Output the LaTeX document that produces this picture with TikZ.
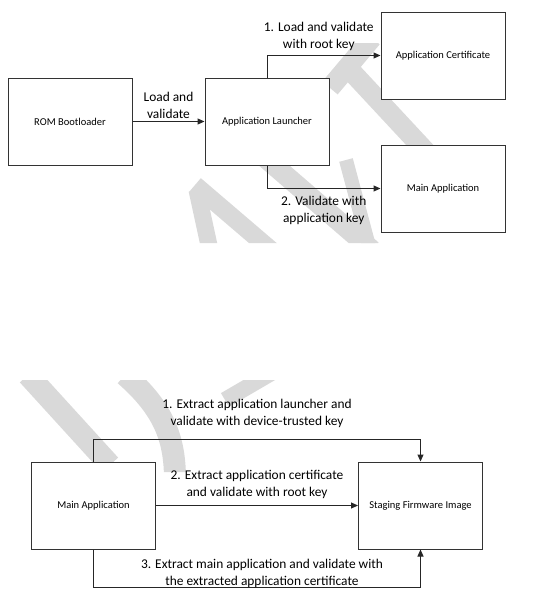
\documentclass[tikz,border=0pt]{standalone}
\usepackage{fontspec}
\setmainfont{Carlito}
\usepackage{tikz}
\usetikzlibrary{arrows.meta, positioning, calc}

\begin{document}
\begin{tikzpicture}[
    x=1pt, y=-1pt,
    box/.style={draw=black!80, fill=white, line width=1pt, minimum width=124pt, minimum height=87pt, align=center, font=\fontsize{10.5}{12}\selectfont},
    lbl/.style={align=center, inner sep=2pt, font=\fontsize{13.4}{17.5}\selectfont},
    flow/.style={draw=black!85, line width=1pt, -{Triangle[length=7pt, width=6pt]}},
    wm/.style={draw=black!15, line width=20pt}
]
    \useasboundingbox (0,0) rectangle (558,605);

    % watermark
    \begin{scope}
        \clip (0,43) rectangle (558,243) (0,380) rectangle (558,472);
        \draw[wm] (372,38) -- (330,88);
        \draw[wm] (350,70) -- (430,156);
        \draw[wm, line width=18pt] (195,185) -- (285,262);
        \draw[wm, line width=17pt] (197,190) -- (210,250);
        \draw[wm] (262,155) -- (372,250);
        \draw[wm, line width=14pt] (346,160) -- (370,250);
        \draw[wm, line width=22pt] (28,375) -- (110,465);
        \draw[wm, line width=22pt] (125,375) .. controls (165,410) and (175,440) .. (175,480);
        \draw[wm, line width=16pt] (225,400) -- (285,365);
    \end{scope}

    % boot chain
    \node[box] (rom) at (70,121.5) {ROM Bootloader};
    \node[box, right=72pt of rom] (launcher) {Application Launcher};
    \node[box, above right=-22pt and 51pt of launcher] (cert) {Application Certificate};
    \node[box, below right=-21pt and 51pt of launcher] (mainapp) {Main Application};

    \draw[flow] (rom) -- node[lbl, above] {Load and\\validate} (launcher);
    \draw[flow] (launcher.north) |- node[lbl, pos=0.75, above=2pt, xshift=-5pt] {1. Load and validate\\with root key} (cert.west);
    \draw[flow] (launcher.south) |- node[lbl, pos=0.75, below=5pt] {2. Validate with\\application key} (mainapp.west);

    % update check
    \node[box] (mainimg) at (93.5,505.5) {Main Application};
    \node[box, right=202pt of mainimg] (staging) {Staging Firmware Image};

    \draw[flow] (mainimg.north) -- ++(0,-22) -| node[lbl, pos=0.25, above=9pt] {1. Extract application launcher and\\validate with device-trusted key} (staging.north);
    \draw[flow] (mainimg) -- node[lbl, above=4pt] {2. Extract application certificate\\and validate with root key} (staging);
    \draw[flow] (mainimg.south) -- ++(0,38) -| node[lbl, pos=0.25, above, xshift=5pt, yshift=-3pt] {3. Extract main application and validate with\\the extracted application certificate} (staging.south);
\end{tikzpicture}
\end{document}
